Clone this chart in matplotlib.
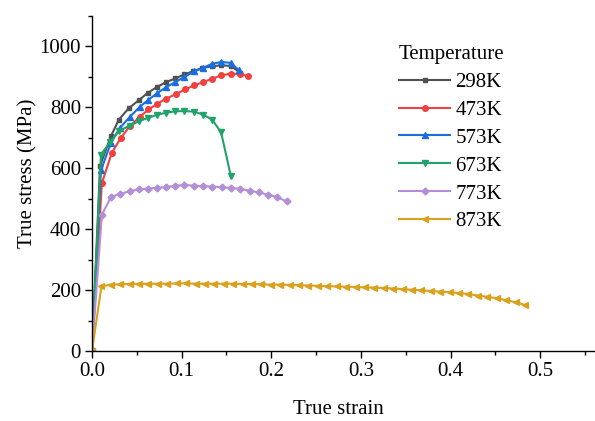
import matplotlib
matplotlib.use("Agg")
import matplotlib.pyplot as plt
from matplotlib.ticker import MultipleLocator

plt.rcParams['font.family'] = ['Liberation Serif', 'DejaVu Serif']
plt.rcParams['mathtext.fontset'] = 'stix'

# True strain / true stress (MPa) for each test temperature
strain_298 = [0, 0.009, 0.021, 0.030, 0.041, 0.052, 0.062, 0.072, 0.082, 0.093, 0.103,
              0.113, 0.123, 0.134, 0.144, 0.155, 0.165]
stress_298 = [0, 608, 705, 760, 797, 823, 847, 866, 882, 895, 908, 919, 929, 935, 938, 936, 914]

strain_473 = [0, 0.011, 0.022, 0.032, 0.042, 0.053, 0.063, 0.073, 0.083, 0.094, 0.104,
              0.114, 0.124, 0.134, 0.144, 0.155, 0.165, 0.174]
stress_473 = [0, 551, 650, 699, 738, 768, 793, 812, 829, 844, 859, 872, 883, 894, 905, 911, 909, 903]

strain_573 = [0, 0.010, 0.021, 0.031, 0.042, 0.053, 0.063, 0.073, 0.083, 0.093, 0.103,
              0.114, 0.124, 0.134, 0.144, 0.155, 0.164]
stress_573 = [0, 593, 683, 732, 768, 801, 825, 847, 867, 883, 900, 918, 930, 943, 949, 946, 922]

strain_673 = [0, 0.010, 0.020, 0.030, 0.042, 0.052, 0.062, 0.072, 0.082, 0.093, 0.103,
              0.114, 0.124, 0.134, 0.144, 0.155]
stress_673 = [0, 645, 685, 722, 740, 754, 765, 775, 782, 787, 788, 786, 776, 760, 718, 573]

strain_773 = [0, 0.011, 0.021, 0.031, 0.042, 0.052, 0.062, 0.072, 0.082, 0.093, 0.103,
              0.114, 0.124, 0.134, 0.145, 0.155, 0.165, 0.176, 0.186, 0.196, 0.206, 0.217]
stress_773 = [0, 447, 505, 516, 524, 531, 533, 536, 538, 543, 545, 543, 541, 540, 538, 535,
              533, 526, 521, 513, 506, 491]

strain_873 = [0, 0.0105, 0.021, 0.0315, 0.042, 0.0525, 0.063, 0.0735, 0.084, 0.0945, 0.105,
              0.1155, 0.126, 0.1365, 0.147, 0.1575, 0.168, 0.1785, 0.189, 0.1995, 0.21,
              0.2205, 0.231, 0.2415, 0.252, 0.2625, 0.273, 0.2835, 0.294, 0.3045, 0.315,
              0.3255, 0.336, 0.3465, 0.357, 0.3675, 0.378, 0.3885, 0.399, 0.4095, 0.42,
              0.4305, 0.441, 0.4515, 0.462, 0.4725, 0.483]
stress_873 = [0, 212, 218, 219, 220, 221, 221, 221, 221, 222, 222,
              221, 221, 221, 221, 221, 220, 220, 219, 218, 218,
              217, 216, 215, 214, 213, 212, 211, 210, 209, 208,
              207, 205, 203, 201, 199, 197, 195, 193, 190, 187,
              182, 178, 173, 167, 160, 151]

labels = ['298K', '473K', '573K', '673K', '773K', '873K']
colors = ['#515151', '#F14040', '#1A6FDF', '#1FA36A', '#B48FD8', '#D9A11E']
markers = ['s', 'o', '^', 'v', 'D', '<']
sizes = [3.5, 4, 4.5, 4.5, 3.5, 4.5]
curves = [(strain_298, stress_298), (strain_473, stress_473), (strain_573, stress_573),
          (strain_673, stress_673), (strain_773, stress_773), (strain_873, stress_873)]

fig = plt.figure(figsize=(5.95, 4.21), dpi=100)
ax = fig.add_axes([92 / 595, 1 - 351 / 421, (594 - 92) / 595, (351 - 16) / 421])

for (x, y), lab, c, m, ms in zip(curves, labels, colors, markers, sizes):
    ax.plot(x, y, color=c, marker=m, markersize=ms, linewidth=1.5, label=lab)

ax.set_xlim(0, 0.56)
ax.set_ylim(0, 1100)
ax.xaxis.set_major_locator(MultipleLocator(0.1))
ax.xaxis.set_minor_locator(MultipleLocator(0.05))
ax.yaxis.set_major_locator(MultipleLocator(200))
ax.yaxis.set_minor_locator(MultipleLocator(100))
ax.xaxis.set_major_formatter(plt.FuncFormatter(lambda v, p: f"{v:.1f}"))

for s in ['top', 'right']:
    ax.spines[s].set_visible(False)
for s in ['left', 'bottom']:
    ax.spines[s].set_linewidth(1.0)

ax.tick_params(which='major', direction='out', length=5, width=1.0, labelsize=15, pad=3)
ax.tick_params(which='minor', direction='out', length=3, width=1.0)

ax.set_xlabel('True strain', fontsize=15)
ax.set_ylabel('True stress (MPa)', fontsize=15)
ax.xaxis.set_label_coords(0.49, -0.145)
ax.yaxis.set_label_coords(-0.108, 0.53)

leg = ax.legend(title='Temperature', loc='upper left', bbox_to_anchor=(399 / 595, 1 - 45 / 421),
                bbox_transform=fig.transFigure, frameon=False, fontsize=15, title_fontsize=15,
                numpoints=1, handlelength=2.45, handletextpad=0.25, labelspacing=0.4,
                borderaxespad=0, borderpad=0)
leg._legend_box.align = 'left'

fig.savefig('out.png', dpi=100)
